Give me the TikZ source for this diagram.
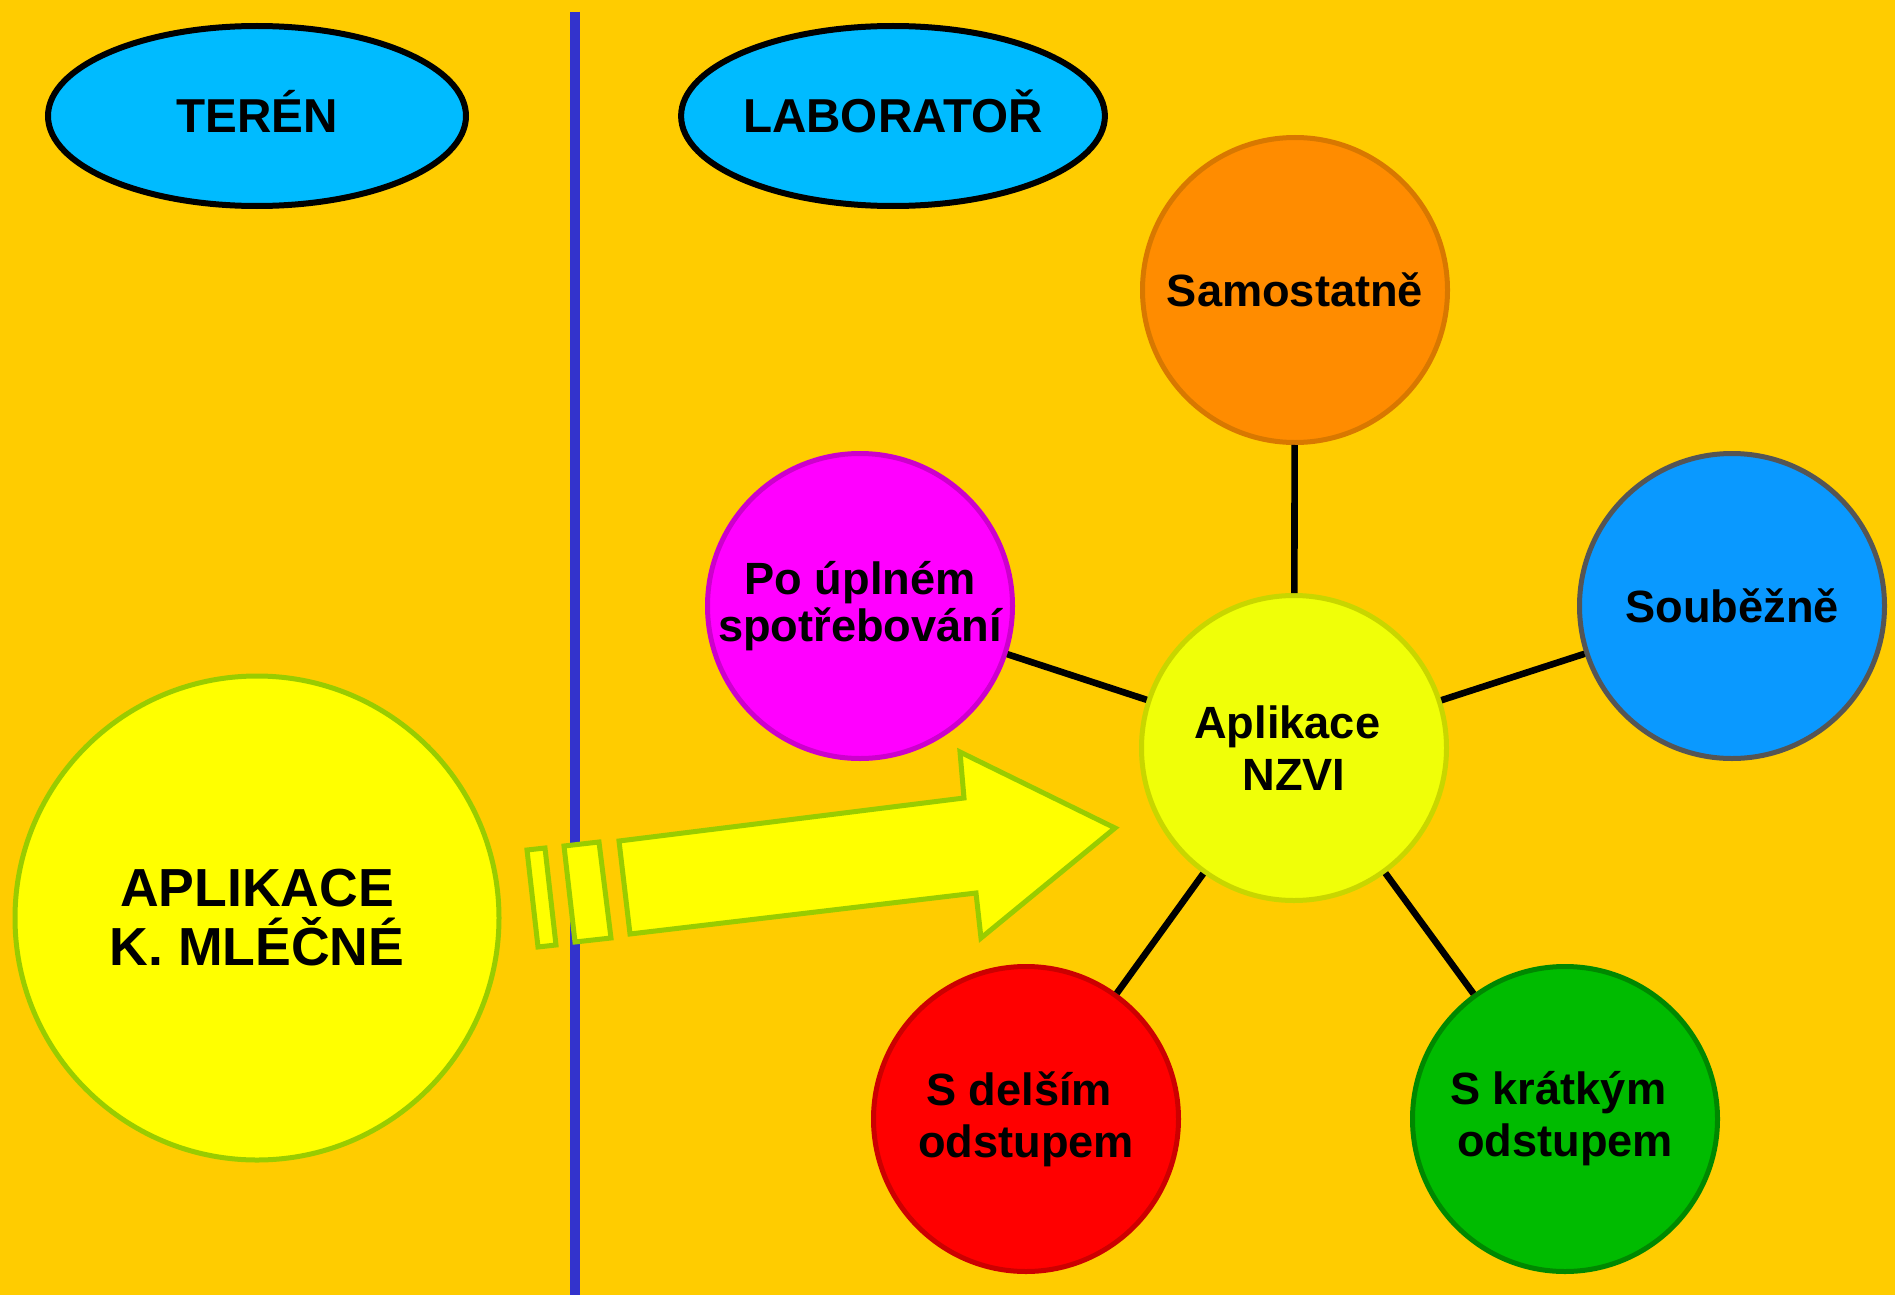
\documentclass[tikz,border=0pt]{standalone}
\usepackage{fontspec}
\setmainfont{Liberation Sans}
\usetikzlibrary{shapes.geometric}
\definecolor{bgc}{HTML}{FFCC00}
\definecolor{ellblue}{HTML}{00BBFF}
\definecolor{vline}{HTML}{3333CC}
\definecolor{orfill}{HTML}{FF8C00}
\definecolor{ordraw}{HTML}{D87800}
\definecolor{mgfill}{HTML}{FF00FF}
\definecolor{mgdraw}{HTML}{CC00CC}
\definecolor{blfill}{HTML}{0A99FF}
\definecolor{bldraw}{HTML}{555555}
\definecolor{nzfill}{HTML}{F0FF08}
\definecolor{nzdraw}{HTML}{C8D600}
\definecolor{rdfill}{HTML}{FF0000}
\definecolor{rddraw}{HTML}{CC0000}
\definecolor{grfill}{HTML}{00BB00}
\definecolor{grdraw}{HTML}{008800}
\definecolor{ylfill}{HTML}{FFFF00}
\definecolor{yldraw}{HTML}{99CC00}
\begin{document}
\begin{tikzpicture}[x=0.5pt,y=-0.5pt,
  bub/.style={circle, draw, line width=2.5pt, inner sep=0pt, minimum size=152.5pt,
    align=center, font=\bfseries\fontsize{22.6}{26}\selectfont},
  ttl/.style={ellipse, draw=black, fill=ellblue, line width=3pt, inner sep=0pt,
    minimum width=209pt, minimum height=90pt, text height=17pt, text depth=0pt,
    font=\bfseries\fontsize{23.8}{28}\selectfont},
  link/.style={line width=3.3pt, draw=black},
  arrpart/.style={fill=ylfill, draw=yldraw, line width=2.5pt, line join=miter}]
\useasboundingbox (0,0) rectangle (1895,1295);
\fill[bgc] (0,0) rectangle (1895,1295);

% divider
\coordinate (vtop) at (575,12);
\coordinate (vbot) at (575,1295);
\draw[vline, line width=5pt] (vtop) -- (vbot);

% titles
\node[ttl] (teren) at (257,116) {TERÉN};
\node[ttl] (lab) at (893,116) {LABORATOŘ};

% big field circle
\node[circle, draw=yldraw, fill=ylfill, line width=2.5pt, inner sep=0pt, minimum size=242pt,
  align=center, font=\bfseries\fontsize{26.8}{29.5}\selectfont] (mlecne) at (257,918)
  {APLIKACE\\K. MLÉČNÉ};

% arrow
\draw[arrpart] (527,850) -- (545,848) -- (556,945) -- (538,947) -- cycle;
\draw[arrpart] (564,846) -- (599,842) -- (611,938) -- (575,942) -- cycle;
\draw[arrpart] (619,841) -- (964,798) -- (960,752) -- (1115,828) -- (981,938) -- (976,893) -- (630,934) -- cycle;

% lab circles
\node[bub, draw=nzdraw, fill=nzfill] (nzvi) at (1294,748) {Aplikace\kern0.3em\\NZVI};
\node[bub, draw=ordraw, fill=orfill, text height=16.2pt, text depth=0pt] (samo) at (1295,290) {Samostatně};
\node[bub, draw=mgdraw, fill=mgfill, font=\bfseries\fontsize{22.6}{23.5}\selectfont] (po) at (860,606) {Po úplném\\spotřebování};
\node[bub, draw=bldraw, fill=blfill, text height=16.2pt, text depth=0pt] (soub) at (1732,606) {Souběžně};
\node[bub, draw=rddraw, fill=rdfill, font=\bfseries\fontsize{22.6}{26}\selectfont] (sdel) at (1026,1119) {S delším\kern0.3em\\odstupem};
\node[bub, draw=grdraw, fill=grfill, font=\bfseries\fontsize{22.6}{26}\selectfont] (skrat) at (1565,1119) {S krátkým\kern0.3em\\odstupem};

% connectors
\draw[link] (samo) -- (nzvi);
\draw[link] (po) -- (nzvi);
\draw[link] (soub) -- (nzvi);
\draw[link] (nzvi) -- (sdel);
\draw[link] (nzvi) -- (skrat);
\end{tikzpicture}
\end{document}
